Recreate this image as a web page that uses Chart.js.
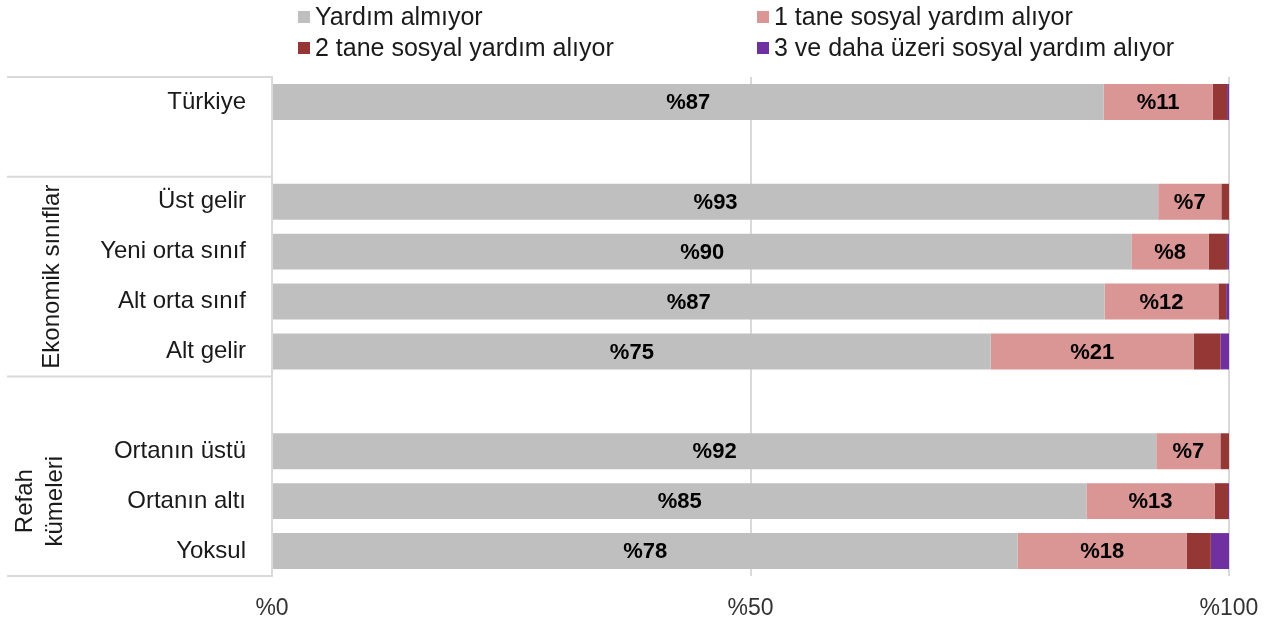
<!DOCTYPE html>
<html>
<head>
<meta charset="utf-8">
<script src="https://cdn.jsdelivr.net/npm/chart.js@4/dist/chart.umd.min.js"></script>
<style>
html,body{margin:0;padding:0;background:#fff;}
#wrap{width:1274px;height:619px;position:relative;}
</style>
</head>
<body>
<div id="wrap"><canvas id="c" width="1274" height="619"></canvas></div>
<script>
const categories = ["Türkiye", "", "Üst gelir", "Yeni orta sınıf", "Alt orta sınıf", "Alt gelir", "", "Ortanın üstü", "Ortanın altı", "Yoksul"];
const seriesNames = ["Yardım almıyor", "1 tane sosyal yardım alıyor", "2 tane sosyal yardım alıyor", "3 ve daha üzeri sosyal yardım alıyor"];
const noAid    = [86.9, null, 92.6, 89.8, 87.0, 75.1, null, 92.4, 85.1, 77.9];
const oneAid   = [11.4, null, 6.6, 8.1, 11.9, 21.2, null, 6.7, 13.4, 17.7];
const twoAid   = [1.5, null, 0.8, 1.9, 0.8, 2.8, null, 0.9, 1.4, 2.5];
const threeAid = [0.2, null, 0.0, 0.2, 0.3, 0.9, null, 0.0, 0.1, 1.9];
const xTicks = [0, 50, 100];
const groups = [
  {lines: ["Ekonomik sınıflar"], from: 2, to: 5},
  {lines: ["Refah", "kümeleri"], from: 7, to: 9}
];
const colors = ["#BFBFBF", "#DA9694", "#953735", "#7030A0"];
const FONT = "'Liberation Sans', Arial, sans-serif";

const extras = {
  id: 'extras',
  afterDatasetsDraw(chart) {
    const ctx = chart.ctx;
    ctx.save();
    ctx.font = "bold 22px " + FONT;
    ctx.fillStyle = "#000";
    ctx.textAlign = "center";
    ctx.textBaseline = "middle";
    [0, 1].forEach(di => {
      const meta = chart.getDatasetMeta(di);
      meta.data.forEach((bar, i) => {
        const v = chart.data.datasets[di].data[i];
        if (v == null) return;
        ctx.fillText("%" + Math.round(v), (bar.x + bar.base) / 2, bar.y + 1);
      });
    });
    ctx.restore();
  },
  afterDraw(chart) {
    const ctx = chart.ctx;
    const ys = chart.scales.y;
    const area = chart.chartArea;
    ctx.save();
    const step = ys.getPixelForValue(1) - ys.getPixelForValue(0);
    const bounds = [area.top, ys.getPixelForValue(1) + step / 2, ys.getPixelForValue(5) + step / 2, area.bottom];
    ctx.strokeStyle = "#D9D9D9";
    ctx.lineWidth = 2;
    bounds.forEach(y => {
      ctx.beginPath();
      ctx.moveTo(7, y);
      ctx.lineTo(area.left, y);
      ctx.stroke();
    });
    ctx.fillStyle = "#1a1a1a";
    ctx.font = "24px " + FONT;
    ctx.textAlign = "center";
    ctx.textBaseline = "middle";
    const gx = [[52], [25, 55]];
    groups.forEach((g, gi) => {
      const cy = (ys.getPixelForValue(g.from) + ys.getPixelForValue(g.to)) / 2;
      g.lines.forEach((t, li) => {
        ctx.save();
        ctx.translate(gx[gi][li], cy);
        ctx.rotate(-Math.PI / 2);
        ctx.fillText(t, 0, 0);
        ctx.restore();
      });
    });
    const pos = [[298, 17], [757, 17], [298, 48], [757, 48]];
    ctx.font = "25px " + FONT;
    ctx.textAlign = "left";
    chart.data.datasets.forEach((ds, i) => {
      const [x, y] = pos[i];
      ctx.fillStyle = ds.backgroundColor;
      ctx.fillRect(x, y - 6, 12, 12);
      ctx.fillStyle = "#1a1a1a";
      ctx.fillText(ds.label, x + 17, y + 1);
    });
    ctx.restore();
  }
};

new Chart(document.getElementById('c'), {
  type: 'bar',
  data: {
    labels: categories,
    datasets: [noAid, oneAid, twoAid, threeAid].map((d, i) => ({
      label: seriesNames[i],
      data: d,
      backgroundColor: colors[i],
      borderWidth: 0,
      barPercentage: 0.72,
      categoryPercentage: 1
    }))
  },
  options: {
    indexAxis: 'y',
    responsive: false,
    animation: false,
    layout: {padding: {top: 77, right: 45, left: 0, bottom: 0}, autoPadding: false},
    plugins: {legend: {display: false}, tooltip: {enabled: false}},
    scales: {
      x: {
        stacked: true, min: 0, max: 100,
        afterBuildTicks(scale) { scale.ticks = xTicks.map(v => ({value: v})); },
        afterFit(scale) { scale.height = 43; scale.paddingLeft = 0; scale.paddingRight = 0; },
        grid: {color: "#D9D9D9", lineWidth: 2, drawTicks: false},
        border: {display: false},
        ticks: {padding: 19, color: "#333", font: {family: FONT, size: 23}, callback: v => "%" + v}
      },
      y: {
        stacked: true,
        afterFit(scale) { scale.width = 272; },
        grid: {display: false},
        border: {display: true, color: "#D9D9D9", width: 2},
        ticks: {padding: 18, color: "#1a1a1a", font: {family: FONT, size: 24}, autoSkip: false}
      }
    }
  },
  plugins: [extras]
});
</script>
</body>
</html>
